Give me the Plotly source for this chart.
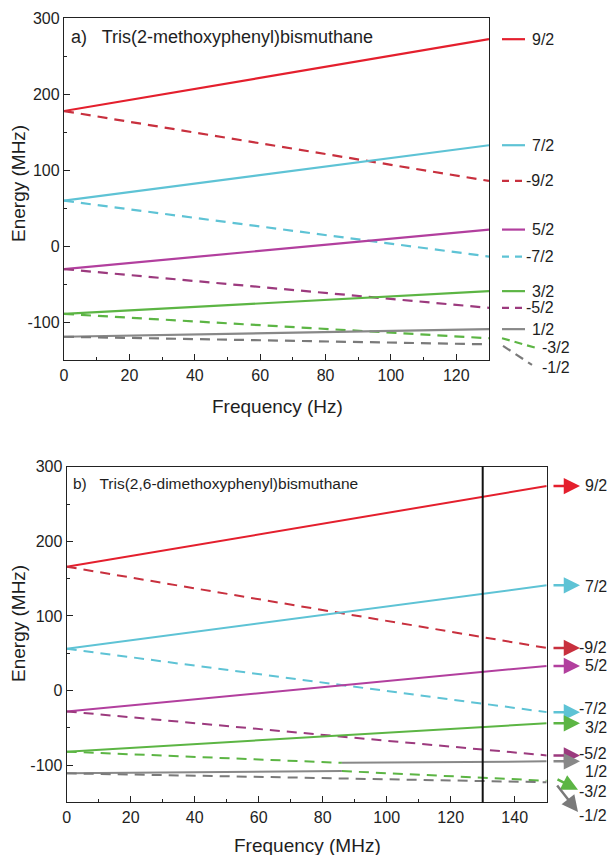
import plotly.graph_objects as go

W, H = 611, 855

# ---------------- data ----------------
levels = ["9/2", "-9/2", "7/2", "-7/2", "5/2", "-5/2", "3/2", "-3/2", "1/2", "-1/2"]

# panel a) Tris(2-methoxyphenyl)bismuthane, frequency in Hz
top_freq = [0, 130]
top_start = [178, 178, 60, 60, -30, -30, -89, -89, -119, -119]
top_end = [272.5, 86, 133, -13.5, 22, -81, -59, -121, -109, -129]

# panel b) Tris(2,6-dimethoxyphenyl)bismuthane, frequency in MHz
bot_freq = [0, 150]
bot_start = [166, 166, 56, 56, -28, -28, -82, -82, -111, -111]
bot_end = [274, 57, 141, -29, 33, -87, -44, -121, -95, -123]
bot_split_freq = [0, 86, None, 86, 150]
bot_m3_2 = [-82, -97, None, -108, -121]
bot_p1_2 = [-111, -108, None, -97, -95]
bot_marker_freq = 130

Y_RANGE = [-150, 300]
y_tickvals = [-100, 0, 100, 200, 300]
y_ticktext = ["-100", "0", "100", "200", "300"]

# ---------------- style ----------------
colors = {"9/2": "#e41f2d", "-9/2": "#c8303e", "7/2": "#5ec3d5", "-7/2": "#5ec3d5",
          "5/2": "#b23f9e", "-5/2": "#9c3a7e", "3/2": "#5cb544", "-3/2": "#5cb544",
          "1/2": "#888888", "-1/2": "#7a7a7a"}
DASH = "10px,7px"
FONT = "Liberation Sans, Arial, sans-serif"
TXT = "#1e1e1e"


def px(x):
    return x / W


def py(y):
    return 1 - y / H


def yd(v):
    # energy value -> fraction of the y-axis domain (may fall outside 0..1)
    return (v - Y_RANGE[0]) / (Y_RANGE[1] - Y_RANGE[0])


def dash_of(lv):
    return DASH if lv.startswith("-") else "solid"


fig = go.Figure()

for i, lv in enumerate(levels):
    fig.add_trace(go.Scatter(x=top_freq, y=[top_start[i], top_end[i]], mode="lines",
                             line=dict(color=colors[lv], width=2.2, dash=dash_of(lv)),
                             xaxis="x", yaxis="y", showlegend=False))

for i, lv in enumerate(levels):
    if lv == "-3/2":
        xs, ys = bot_split_freq, bot_m3_2
    elif lv == "1/2":
        xs, ys = bot_split_freq, bot_p1_2
    else:
        xs, ys = bot_freq, [bot_start[i], bot_end[i]]
    fig.add_trace(go.Scatter(x=xs, y=ys, mode="lines", connectgaps=False,
                             line=dict(color=colors[lv], width=2.0, dash=dash_of(lv)),
                             xaxis="x2", yaxis="y2", showlegend=False))

axis_common = dict(showline=True, linecolor="#222222", linewidth=1.3, mirror=True,
                   showgrid=False, zeroline=False, ticks="inside", ticklen=6,
                   tickwidth=1.2, tickcolor="#222222",
                   tickfont=dict(family=FONT, size=16, color=TXT),
                   automargin=False, fixedrange=True)

fig.update_layout(
    width=W, height=H, margin=dict(l=0, r=0, t=0, b=0),
    paper_bgcolor="white", plot_bgcolor="white",
    xaxis=dict(domain=[px(64), px(489)], range=[0, 130], dtick=20, anchor="y",
               minor=dict(ticks="inside", ticklen=3, dtick=10, tickcolor="#222222"),
               **axis_common),
    yaxis=dict(domain=[py(360.3), py(18.3)], range=Y_RANGE, tickvals=y_tickvals,
               ticktext=y_ticktext, anchor="x",
               minor=dict(ticks="inside", ticklen=3, dtick=50, tickcolor="#222222"),
               **axis_common),
    xaxis2=dict(domain=[px(66.7), px(546.7)], range=[0, 150], dtick=20, anchor="y2",
                minor=dict(ticks="inside", ticklen=3, dtick=10, tickcolor="#222222"),
                **axis_common),
    yaxis2=dict(domain=[py(802.4), py(466.7)], range=Y_RANGE, tickvals=y_tickvals,
                ticktext=y_ticktext, anchor="x2",
                minor=dict(ticks="inside", ticklen=3, dtick=50, tickcolor="#222222"),
                **axis_common),
)

# vertical marker line in panel b
fig.add_shape(type="line", xref="x2", yref="y2 domain", x0=bot_marker_freq, x1=bot_marker_freq,
              y0=0, y1=1, line=dict(color="#111111", width=2))

ann = []
# panel titles
ann.append(dict(text="a)\u00a0\u00a0 Tris(2-methoxyphenyl)bismuthane", xref="paper", yref="paper",
                x=px(69), y=py(37), xanchor="left", yanchor="middle", showarrow=False,
                font=dict(family=FONT, size=18, color=TXT)))
ann.append(dict(text="b)\u00a0\u00a0 Tris(2,6-dimethoxyphenyl)bismuthane", xref="paper", yref="paper",
                x=px(71), y=py(483), xanchor="left", yanchor="middle", showarrow=False,
                font=dict(family=FONT, size=15.5, color=TXT)))
# axis titles
for (xc, yc, t, rot) in [(277, 406, "Frequency (Hz)", 0), (307, 845, "Frequency (MHz)", 0),
                         (19, 184, "Energy (MHz)", -90), (18, 624, "Energy (MHz)", -90)]:
    ann.append(dict(text=t, xref="paper", yref="paper", x=px(xc), y=py(yc),
                    xanchor="center", yanchor="middle", showarrow=False, textangle=rot,
                    font=dict(family=FONT, size=19, color=TXT)))

LFONT = dict(family=FONT, size=16, color=TXT)

# panel a level labels (short line keys)
for i, lv in enumerate(levels):
    yv = top_end[i]
    if lv == "-3/2":
        fig.add_shape(type="line", xref="paper", yref="y domain", x0=px(502), x1=px(537),
                      y0=yd(-121), y1=yd(-134), line=dict(color=colors[lv], width=2.2, dash="8px,5px"))
        ann.append(dict(text=lv, xref="paper", yref="y domain", x=px(572), y=yd(-133),
                        xanchor="right", yanchor="middle", showarrow=False, font=LFONT))
        continue
    if lv == "-1/2":
        fig.add_shape(type="line", xref="paper", yref="y domain", x0=px(503), x1=px(532),
                      y0=yd(-131), y1=yd(-156), line=dict(color=colors[lv], width=2.2, dash="9px,6px"))
        ann.append(dict(text=lv, xref="paper", yref="y domain", x=px(572), y=yd(-160),
                        xanchor="right", yanchor="middle", showarrow=False, font=LFONT))
        continue
    if lv.startswith("-"):
        fig.add_shape(type="line", xref="paper", yref="y domain", x0=px(502), x1=px(522),
                      y0=yd(yv), y1=yd(yv), line=dict(color=colors[lv], width=2.2, dash="7px,6px"))
    else:
        fig.add_shape(type="line", xref="paper", yref="y domain", x0=px(502), x1=px(525),
                      y0=yd(yv), y1=yd(yv), line=dict(color=colors[lv], width=2.2))
    ann.append(dict(text=lv, xref="paper", yref="y domain", x=px(556), y=yd(yv),
                    xanchor="right", yanchor="middle", showarrow=False, font=LFONT))

# panel b level labels (arrow keys)
bot_text_y = {"9/2": 275, "-9/2": 58, "7/2": 140, "-7/2": -24, "5/2": 34, "-5/2": -85,
              "3/2": -49, "-3/2": -135, "1/2": -108, "-1/2": -167}
bot_arrow = {"-3/2": (-133, -22, -11), "-1/2": (-163, -22, -28)}
for i, lv in enumerate(levels):
    if lv in bot_arrow:
        yh, ax, ay = bot_arrow[lv]
        xh = 578
    else:
        yh, ax, ay = bot_end[i], -28, 0
        xh = 580
    ann.append(dict(text="", xref="paper", yref="y2 domain", x=px(xh), y=yd(yh), ax=ax, ay=ay,
                    showarrow=True, arrowhead=2, arrowsize=1.3, arrowwidth=2.5,
                    arrowcolor=colors[lv]))
    ann.append(dict(text=lv, xref="paper", yref="y2 domain", x=px(609), y=yd(bot_text_y[lv]),
                    xanchor="right", yanchor="middle", showarrow=False, font=LFONT))

fig.update_layout(annotations=ann)
fig.write_html("out.html", config={"displayModeBar": False},
               post_script="document.body.style.margin='0';document.body.style.overflow='hidden';")
